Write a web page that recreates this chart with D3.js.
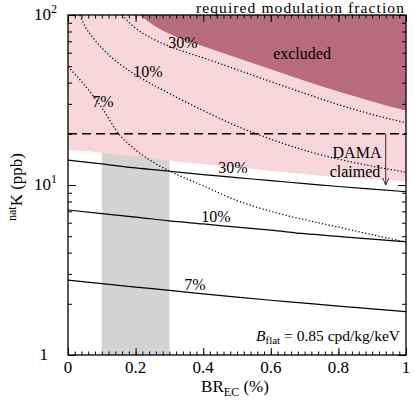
<!doctype html>
<html>
<head>
<style>
    body { margin: 0; background: #fff; }
</style>
<script src="https://d3js.org/d3.v7.min.js"></script>
</head>
<body>
<svg width="415" height="402"></svg>
<script>
    // x tick labels and y decades
    var xTicks = [0, 0.2, 0.4, 0.6, 0.8, 1];
    var yTicks = [1, 10, 100];
    var yTickBase = ["1", "10", "10"];
    var yTickExp = ["", "1", "2"];

    // common BR grid for flat-background lines and the pink band
    var brGrid = [0, 0.1, 0.2, 0.3, 0.4, 0.5, 0.6, 0.7, 0.8, 0.9, 1.0];
    var solid30 = [14.0, 13.3, 12.6, 12.05, 11.5, 11.05, 10.6, 10.2, 9.8, 9.45, 9.14];
    var solid10 = [7.13, 6.79, 6.48, 6.15, 5.9, 5.65, 5.42, 5.17, 4.98, 4.8, 4.64];
    var solid7 = [2.76, 2.63, 2.51, 2.40, 2.29, 2.19, 2.10, 2.02, 1.94, 1.87, 1.80];
    var pinkLow = [16.1, 15.5, 14.7, 13.9, 13.3, 12.7, 12.1, 11.6, 11.1, 10.8, 10.5];

    // required modulation fraction curves (dotted)
    var dot7X = [0, 0.05, 0.1, 0.15, 0.2, 0.25, 0.3, 0.4, 0.5, 0.6, 0.7, 0.8, 0.9, 1.0];
    var dot7 = [49.6, 38.5, 28.5, 20.0, 16.1, 13.7, 12.1, 9.9, 8.1, 7.0, 6.25, 5.65, 5.1, 4.62];
    var dot10X = [0.035, 0.05, 0.075, 0.1, 0.15, 0.2, 0.3, 0.4, 0.5, 0.6, 0.7, 0.8, 0.9, 1.0];
    var dot10 = [100, 86, 73, 64, 52, 44.5, 34.5, 27.4, 22.2, 18.6, 16.0, 14.2, 12.9, 11.9];
    var dot30X = [0.16, 0.2, 0.25, 0.3, 0.4, 0.5, 0.6, 0.7, 0.8, 0.9, 1.0];
    var dot30 = [100, 83.5, 72.6, 65.4, 56.0, 47.7, 40.6, 34.6, 29.7, 26.0, 23.2];

    // excluded region lower edge
    var exclX = [0.213, 0.25, 0.3, 0.4, 0.5, 0.6, 0.7, 0.8, 0.9, 1.0];
    var excl = [100, 88, 77.5, 65.5, 56, 48, 41, 35.5, 31, 27.4];

    var grayBand = [0.1, 0.3];
    var damaLevel = 20, damaArrowX = 0.94, damaArrowEnd = 10;

    var svg = d3.select("svg");
    var x = d3.scaleLinear().domain([0, 1]).range([68, 406]);
    var y = d3.scaleLog().domain([1, 100]).range([355, 15]);

    svg.append("clipPath").attr("id", "clip")
       .append("rect").attr("x", 68).attr("y", 15).attr("width", 338).attr("height", 340);

    var plot = svg.append("g").attr("clip-path", "url(#clip)");

    plot.append("rect")
        .attr("x", x(grayBand[0])).attr("width", x(grayBand[1]) - x(grayBand[0]))
        .attr("y", y(100)).attr("height", y(1) - y(100))
        .attr("fill", "#d3d3d3");

    var pinkArea = d3.area()
        .x(function(d, i) { return x(brGrid[i]); })
        .y0(function(d) { return y(d); })
        .y1(y(100))
        .curve(d3.curveMonotoneX);
    plot.append("path").attr("d", pinkArea(pinkLow)).attr("fill", "#f9d5dc");

    var exclArea = d3.area()
        .x(function(d, i) { return x(exclX[i]); })
        .y0(function(d) { return y(d); })
        .y1(y(100))
        .curve(d3.curveMonotoneX);
    plot.append("path").attr("d", exclArea(excl)).attr("fill", "#b76b7e");

    function lineOf(xs) {
        return d3.line()
            .x(function(d, i) { return x(xs[i]); })
            .y(function(d) { return y(d); })
            .curve(d3.curveMonotoneX);
    }

    [solid30, solid10, solid7].forEach(function(s) {
        plot.append("path").attr("d", lineOf(brGrid)(s))
            .attr("fill", "none").attr("stroke", "#000").attr("stroke-width", 1.2);
    });

    [[dot7X, dot7], [dot10X, dot10], [dot30X, dot30]].forEach(function(s) {
        plot.append("path").attr("d", lineOf(s[0])(s[1]))
            .attr("fill", "none").attr("stroke", "#000").attr("stroke-width", 1.3)
            .attr("stroke-dasharray", "1.2,2.2");
    });

    // DAMA claimed level
    plot.append("line")
        .attr("x1", x(0)).attr("x2", x(1))
        .attr("y1", y(damaLevel)).attr("y2", y(damaLevel))
        .attr("stroke", "#000").attr("stroke-width", 1.5)
        .attr("stroke-dasharray", "9,5");
    plot.append("line")
        .attr("x1", x(damaArrowX)).attr("x2", x(damaArrowX))
        .attr("y1", y(damaLevel)).attr("y2", y(damaArrowEnd))
        .attr("stroke", "#000").attr("stroke-width", 0.8);
    plot.append("path")
        .attr("d", "M" + (x(damaArrowX) - 3) + "," + (y(damaArrowEnd) - 7) +
                   "L" + x(damaArrowX) + "," + y(damaArrowEnd) +
                   "L" + (x(damaArrowX) + 3) + "," + (y(damaArrowEnd) - 7))
        .attr("fill", "none").attr("stroke", "#000").attr("stroke-width", 0.8);

    function addText(tx, ty, size, anchor) {
        return svg.append("text").attr("x", tx).attr("y", ty)
            .style("font-family", "'Liberation Serif'").attr("font-size", size)
            .attr("text-anchor", anchor || "middle").attr("fill", "#000");
    }

    // curve labels
    var labels = [
        ["30%", 233, 173], ["10%", 216, 222], ["7%", 195, 290],
        ["30%", 183, 48], ["10%", 148, 77], ["7%", 103, 107],
        ["excluded", 302, 59], ["DAMA", 357, 158], ["claimed", 355, 177]
    ];
    labels.forEach(function(l) { addText(l[1], l[2], 16).text(l[0]); });

    // axes: inward ticks on all four sides
    var minorX = d3.range(0, 1.0001, 0.02);
    var minorY = [];
    [1, 10].forEach(function(dec) { for (var k = 2; k <= 9; k++) minorY.push(dec * k); });

    function addAxis(axis, tx, ty) {
        svg.append("g")
           .attr("transform", "translate(" + tx + "," + ty + ")")
           .call(axis)
           .call(function(g) { g.select(".domain").remove(); });
    }
    addAxis(d3.axisBottom(x).tickValues(minorX).tickSize(-3.5).tickFormat(""), 0, 355);
    addAxis(d3.axisBottom(x).tickValues(xTicks).tickSize(-7).tickFormat(""), 0, 355);
    addAxis(d3.axisTop(x).tickValues(minorX).tickSize(-3.5).tickFormat(""), 0, 15);
    addAxis(d3.axisTop(x).tickValues(xTicks).tickSize(-7).tickFormat(""), 0, 15);
    addAxis(d3.axisLeft(y).tickValues(minorY).tickSize(-4).tickFormat(""), 68, 0);
    addAxis(d3.axisLeft(y).tickValues(yTicks).tickSize(-8).tickFormat(""), 68, 0);
    addAxis(d3.axisRight(y).tickValues(minorY).tickSize(-4).tickFormat(""), 406, 0);
    addAxis(d3.axisRight(y).tickValues(yTicks).tickSize(-8).tickFormat(""), 406, 0);

    svg.append("rect").attr("x", 68).attr("y", 15).attr("width", 338).attr("height", 340)
       .attr("fill", "none").attr("stroke", "#000").attr("stroke-width", 1.3);

    xTicks.forEach(function(t) { addText(x(t), 373, 17).text(t); });
    yTicks.forEach(function(t, i) {
        var tx = addText(yTickExp[i] ? 57 : 48, y(t) + 5, 17, "end");
        tx.append("tspan").text(yTickBase[i]);
        if (yTickExp[i]) tx.append("tspan").attr("dy", -7).attr("font-size", 12).text(yTickExp[i]);
    });

    // axis titles
    var xl = addText(235, 392, 17);
    xl.append("tspan").text("BR");
    xl.append("tspan").attr("dy", 4).attr("font-size", 12).text("EC");
    xl.append("tspan").attr("dy", -4).text(" (%)");

    var yl = addText(0, 0, 17).attr("transform", "translate(22,187) rotate(-90)");
    yl.append("tspan").attr("dy", -6).attr("font-size", 12).text("nat");
    yl.append("tspan").attr("dy", 6).text("K (ppb)");

    addText(405, 12.5, 15.5, "end").attr("letter-spacing", 1.1).text("required modulation fraction");

    var bf = addText(400, 341, 15.5, "end");
    bf.append("tspan").attr("font-style", "italic").text("B");
    bf.append("tspan").attr("dy", 3).attr("font-size", 11).text("flat");
    bf.append("tspan").attr("dy", -3).text(" = 0.85 cpd/kg/keV");
</script>
</body>
</html>
